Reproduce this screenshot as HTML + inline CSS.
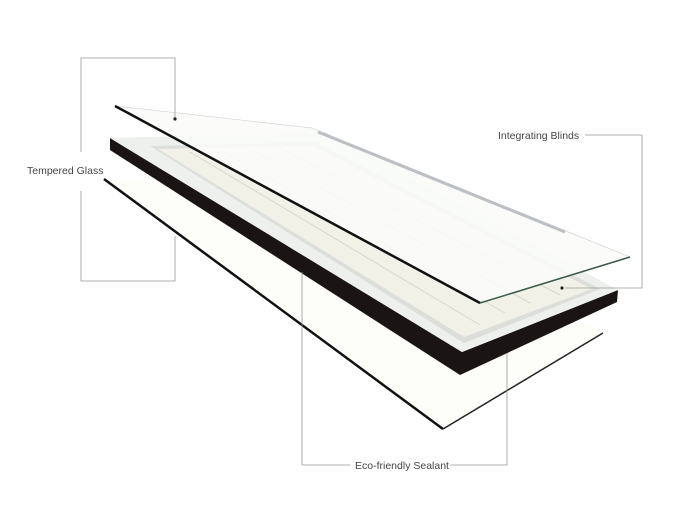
<!DOCTYPE html>
<html><head><meta charset="utf-8"><style>
html,body{margin:0;padding:0;background:#fff;}
svg{display:block;}
text{font-family:"Liberation Sans",sans-serif;font-size:10.5px;fill:#444;}
</style></head><body>
<svg width="700" height="526" viewBox="0 0 700 526" xmlns="http://www.w3.org/2000/svg">
<rect width="700" height="526" fill="#fff"/>
<!-- bottom glass -->
<polygon points="104,179 330,195 603,333 443,429" fill="#fdfdfa"/>
<line x1="104" y1="179" x2="443" y2="429" stroke="#111" stroke-width="2.5"/>
<line x1="443" y1="429" x2="603" y2="333" stroke="#222" stroke-width="1.5"/>
<!-- frame black side -->
<polygon points="110,138 462,352 618,290 617,302 460,375 110,150" fill="#1a1414"/>
<!-- frame top face -->
<polygon points="110,138 325,132 618,290 462,352" fill="#eef0ee"/>
<polygon points="150,146 315,142 600,289 464,343" fill="#dcdeda"/>
<polygon points="158,149 312,146 592,289 464,337" fill="#f1f1e8"/>
<g stroke="#d6d8cc" stroke-width="1">
<line x1="190" y1="152" x2="480" y2="325"/>
<line x1="220" y1="150" x2="505" y2="313"/>
<line x1="250" y1="149" x2="530" y2="303"/>
<line x1="280" y1="148" x2="560" y2="295"/>
</g>
<!-- top glass -->
<polygon points="115,106 312,128 630,257 480,303" fill="#fbfcf9" fill-opacity="0.88" stroke="#ccc" stroke-width="0.6"/>
<line x1="318" y1="132" x2="565" y2="232" stroke="#bcc0c4" stroke-width="3"/>
<line x1="115" y1="106" x2="480" y2="303" stroke="#111" stroke-width="2.5"/>
<line x1="480" y1="303" x2="630" y2="257" stroke="#3a5a4a" stroke-width="1.5"/>
<!-- callouts -->
<g stroke="#999" stroke-width="0.8" fill="none">
<polyline points="81,152 81,58 175,58 175,118"/>
<polyline points="81,191 81,281 175,281 175,236"/>
<polyline points="585,135 642,135 642,288 565,288"/>
<polyline points="302,272 302,465 350,465"/>
<polyline points="450,465 507,465 507,353"/>
</g>
<circle cx="175" cy="119" r="1.6" fill="#222"/>
<circle cx="562" cy="288" r="1.6" fill="#222"/>
<text x="27" y="174">Tempered Glass</text>
<text x="498" y="139">Integrating Blinds</text>
<text x="355" y="469">Eco-friendly Sealant</text>
</svg>
</body></html>
